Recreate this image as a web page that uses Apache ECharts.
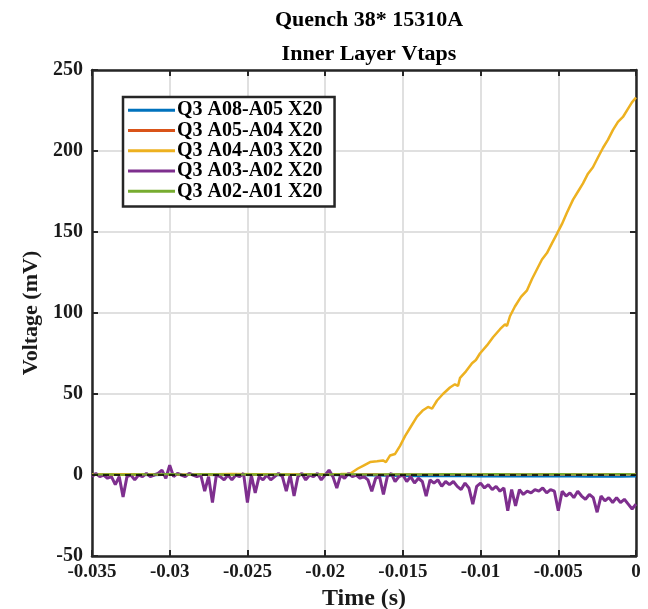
<!DOCTYPE html>
<html>
<head>
<meta charset="utf-8">
<script src="https://cdn.jsdelivr.net/npm/echarts@6/dist/echarts.min.js"></script>
<style>
  html, body { margin: 0; padding: 0; background: #fff; }
  #chart { width: 648px; height: 609px; }
</style>
</head>
<body>
<div id="chart"></div>
<script>
// Quench 38 — inner layer voltage taps (X20 gain), time relative to quench detection
const titleMain = 'Quench 38* 15310A';
const titleSub = 'Inner Layer Vtaps';
const seriesNames = ['Q3 A08-A05 X20', 'Q3 A05-A04 X20', 'Q3 A04-A03 X20', 'Q3 A03-A02 X20', 'Q3 A02-A01 X20'];
const seriesColors = ['#0072BD', '#D95319', '#EDB120', '#7E2F8E', '#77AC30'];

// slow channels, sampled every 1 ms (s)
const baseTime = [-0.035, -0.034, -0.033, -0.032, -0.031, -0.030, -0.029, -0.028, -0.027, -0.026,
  -0.025, -0.024, -0.023, -0.022, -0.021, -0.020, -0.019, -0.018, -0.017, -0.016,
  -0.015, -0.014, -0.013, -0.012, -0.011, -0.010, -0.009, -0.008, -0.007, -0.006,
  -0.005, -0.004, -0.003, -0.002, -0.001, 0];
const blueVolt = [0.1, 0, 0.2, 0, -0.1, 0.1, 0, 0.1, -0.1, 0, 0.1, 0, -0.1, 0.1, 0, 0, -0.1, -0.2, -0.3, -0.5,
  -0.6, -0.7, -0.7, -0.8, -0.8, -0.9, -0.8, -0.9, -1.0, -0.9, -1.0, -1.0, -1.1, -1.0, -1.1, -1.0];
const orangeVolt = [0.3, 0.2, 0.4, 0.2, 0.3, 0.4, 0.2, 0.3, 0.3, 0.2, 0.4, 0.3, 0.2, 0.3, 0.4, 0.3, 0.2, 0.3, 0.4, 0.3,
  0.4, 0.3, 0.3, 0.4, 0.3, 0.4, 0.3, 0.4, 0.3, 0.4, 0.3, 0.4, 0.3, 0.4, 0.3, 0.4];
const greenVolt = [0.2, 0.5, 0.1, 0.4, 0.3, 0.6, 0.2, 0.4, 0.5, 0.2, 0.4, 0.3, 0.5, 0.2, 0.4, 0.3, 0.5, 0.4, 0.3, 0.5,
  0.4, 0.5, 0.4, 0.6, 0.5, 0.4, 0.6, 0.5, 0.4, 0.5, 0.6, 0.5, 0.4, 0.5, 0.6, 0.5];

// A04-A03 channel (resistive growth after quench onset)
const yellowTime = [-0.035, -0.032, -0.029, -0.026, -0.023, -0.020, -0.0190, -0.0184, -0.01789, -0.0175,
  -0.01711, -0.01666, -0.01628, -0.01609, -0.01583, -0.0155, -0.01518, -0.01486, -0.01454, -0.01409,
  -0.0137, -0.01338, -0.01312, -0.0128, -0.01242, -0.01197, -0.01165, -0.01145, -0.01132, -0.01094,
  -0.01055, -0.0103, -0.01004, -0.00959, -0.0092, -0.00875, -0.00843, -0.0083, -0.00811, -0.00779,
  -0.0074, -0.00701, -0.00669, -0.00637, -0.00605, -0.00573, -0.00541, -0.00508, -0.00476, -0.00444,
  -0.00405, -0.00373, -0.00341, -0.00309, -0.00277, -0.00245, -0.00212, -0.0018, -0.00148, -0.00116,
  -0.00084, -0.00052, -0.00026, 0];
const yellowVolt = [0.3, 0.5, 0.2, 0.6, 0.3, 0.4, 0.6, 0.8, 4, 6,
  8, 8.5, 9, 8, 12, 13, 18, 24, 29, 36,
  40, 42, 41, 46, 50, 54, 56, 55, 60, 64,
  69, 71, 75, 80, 85, 90, 93, 92, 98, 104,
  110, 114, 121, 127, 133, 137, 143, 149, 155, 162,
  170, 175, 180, 186, 190, 196, 202, 207, 213, 218,
  221, 226, 230, 233];

// A03-A02 channel, sampled every 0.25 ms
const purpleTime = [-0.035, -0.03475, -0.0345, -0.03425, -0.034, -0.03375, -0.0335, -0.03325, -0.033, -0.03275,
  -0.0325, -0.03225, -0.032, -0.03175, -0.0315, -0.03125, -0.031, -0.03075, -0.0305, -0.03025,
  -0.030, -0.02975, -0.0295, -0.02925, -0.029, -0.02875, -0.0285, -0.02825, -0.028, -0.02775,
  -0.0275, -0.02725, -0.027, -0.02675, -0.0265, -0.02625, -0.026, -0.02575, -0.0255, -0.02525,
  -0.025, -0.02475, -0.0245, -0.02425, -0.024, -0.02375, -0.0235, -0.02325, -0.023, -0.02275,
  -0.0225, -0.02225, -0.022, -0.02175, -0.0215, -0.02125, -0.021, -0.02075, -0.0205, -0.02025,
  -0.020, -0.01975, -0.0195, -0.01925, -0.019, -0.01875, -0.0185, -0.01825, -0.018, -0.01775,
  -0.0175, -0.01725, -0.017, -0.01675, -0.0165, -0.01625, -0.016, -0.01575, -0.0155, -0.01525,
  -0.015, -0.01475, -0.0145, -0.01425, -0.014, -0.01375, -0.0135, -0.01325, -0.013, -0.01275,
  -0.0125, -0.01225, -0.012, -0.01175, -0.0115, -0.01125, -0.011, -0.01075, -0.0105, -0.01025,
  -0.010, -0.00975, -0.0095, -0.00925, -0.009, -0.00875, -0.0085, -0.00825, -0.008, -0.00775,
  -0.0075, -0.00725, -0.007, -0.00675, -0.0065, -0.00625, -0.006, -0.00575, -0.0055, -0.00525,
  -0.005, -0.00475, -0.0045, -0.00425, -0.004, -0.00375, -0.0035, -0.00325, -0.003, -0.00275,
  -0.0025, -0.00225, -0.002, -0.00175, -0.0015, -0.00125, -0.001, -0.00075, -0.0005, -0.00025, 0];
const purpleVolt = [-1, 1, -1, 0, -2, -1, -6, -1, -13.5, -1,
  0, -3, 0, -1, 1, -1, 0, 1, 3, -2,
  6, -1, 1, 0, -1, 1, 0, -1, 0, -10,
  -1, -17, 0, -1, -3, 0, -3, 0, -1, 1,
  -17, 0, -11, -1, -3, 0, -3, -1, 1, -1,
  -10, 0, -13, -1, 1, -3, 0, -1, 1, -3,
  0, 3, -1, -8, 0, -2, 1, -1, 0, -2,
  -1, -3, -10, -2, -1, -12, -1, 1, -4, -1,
  0, -4, -1, -5, -2, -4, -13, -3, -5, -3,
  -7, -4, -6, -4, -7, -9, -5, -8, -18, -7,
  -5, -8, -6, -9, -7, -10, -8, -22, -9, -19,
  -9, -12, -10, -11, -9, -10, -8, -11, -9, -10,
  -22, -10, -13, -11, -14, -10, -13, -15, -12, -14,
  -23, -13, -16, -14, -17, -14, -17, -15, -18, -21, -18];

// axis ranges and ticks
const xMin = -0.035, xMax = 0, xStep = 0.005;
const yMin = -50, yMax = 250, yStep = 50;

function pairs(t, v) { return t.map((x, i) => [x, v[i]]); }

const serifFont = '"Liberation Serif", "Times New Roman", serif';
const axisDark = '#262626';
const gridGray = '#e0e0e0';

function axisBase(pos, showLabels, isX) {
  return {
    type: 'value',
    position: pos,
    min: isX ? xMin : yMin,
    max: isX ? xMax : yMax,
    interval: isX ? xStep : yStep,
    axisLine: { show: true, onZero: false, lineStyle: { color: axisDark, width: 2.5 } },
    axisTick: { show: true, inside: true, length: 6, lineStyle: { color: axisDark, width: 2 } },
    splitLine: { show: showLabels, lineStyle: { color: gridGray, width: 2 } },
    axisLabel: {
      show: showLabels,
      color: '#1a1a1a',
      fontFamily: serifFont,
      fontWeight: 'bold',
      fontSize: isX ? 19 : 20,
      margin: isX ? 7 : 9,
      formatter: v => isX ? String(parseFloat(v.toFixed(3))) : String(Math.round(v))
    }
  };
}

const chart = echarts.init(document.getElementById('chart'), null, { renderer: 'canvas' });

const lineSeries = [
  { t: baseTime, v: blueVolt, w: 2 },
  { t: baseTime, v: orangeVolt, w: 2 },
  { t: yellowTime, v: yellowVolt, w: 2.5 },
  { t: purpleTime, v: purpleVolt, w: 3 },
  { t: baseTime, v: greenVolt, w: 2 }
].map((s, i) => ({
  name: seriesNames[i],
  type: 'line',
  xAxisIndex: 0,
  yAxisIndex: 0,
  data: pairs(s.t, s.v),
  showSymbol: false,
  symbol: 'none',
  animation: false,
  lineStyle: { color: seriesColors[i], width: s.w },
  itemStyle: { color: seriesColors[i] },
  z: 3 + i
}));

// dashed zero reference
lineSeries.push({
  name: 'zero',
  type: 'line',
  data: [[xMin, 0], [xMax, 0]],
  symbol: 'none',
  animation: false,
  lineStyle: { color: '#000', width: 1.5, type: [6, 5] },
  z: 10
});

chart.setOption({
  backgroundColor: '#fff',
  animation: false,
  title: [
    { text: titleMain, left: 364, top: 4, textAlign: 'center',
      textStyle: { fontFamily: serifFont, fontWeight: 'bold', fontSize: 22, color: '#000' } },
    { text: titleSub, left: 364, top: 38, textAlign: 'center',
      textStyle: { fontFamily: serifFont, fontWeight: 'bold', fontSize: 22, color: '#000' } }
  ],
  grid: { left: 92, right: 12, top: 70, bottom: 53, containLabel: false, outerBoundsMode: 'none' },
  legend: {
    data: seriesNames,
    orient: 'vertical',
    left: 123,
    top: 97,
    backgroundColor: '#fff',
    borderColor: axisDark,
    borderWidth: 2.5,
    padding: [3, 12, 5, 5],
    icon: 'rect',
    itemWidth: 47,
    itemHeight: 3,
    itemGap: 0,
    textStyle: { fontFamily: serifFont, fontWeight: 'bold', fontSize: 20, lineHeight: 20.3, color: '#000', padding: [0, 0, 0, -3] }
  },
  xAxis: [
    Object.assign(axisBase('bottom', true, true), {
      name: 'Time (s)', nameLocation: 'middle', nameGap: 29,
      nameTextStyle: { fontFamily: serifFont, fontWeight: 'bold', fontSize: 24, color: '#1a1a1a' }
    }),
    axisBase('top', false, true)
  ],
  yAxis: [
    Object.assign(axisBase('left', true, false), {
      name: 'Voltage (mV)', nameLocation: 'middle', nameGap: 49,
      nameTextStyle: { fontFamily: serifFont, fontWeight: 'bold', fontSize: 22, color: '#1a1a1a' }
    }),
    axisBase('right', false, false)
  ],
  series: lineSeries
});
</script>
</body>
</html>
